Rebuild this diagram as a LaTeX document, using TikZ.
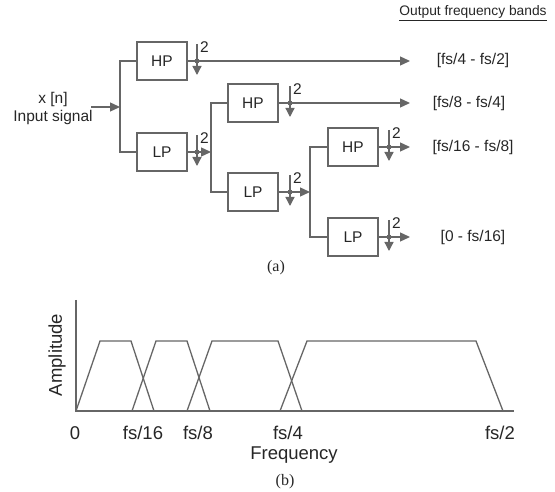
\documentclass[tikz,border=0pt]{standalone}
\usepackage{fontspec}
\setmainfont{Liberation Sans}
\newfontfamily\serifcap{Liberation Serif}
\usetikzlibrary{arrows.meta}
\tikzset{
  ln/.style={draw=black!60, line width=1.3pt},
  arr/.style={ln, -{Triangle[length=10pt,width=9pt]}},
  filt/.style={draw=black!60, line width=1.3pt, minimum width=50pt, minimum height=38pt, inner sep=0pt, text=black!85, font=\fontsize{15.5}{18}\selectfont},
  lab/.style={text=black!85, font=\fontsize{15.5}{18}\selectfont, inner sep=0pt},
  blab/.style={text=black!85, font=\fontsize{18.5}{21}\selectfont, inner sep=0pt},
  captext/.style={text=black!85, font=\serifcap\fontsize{16}{18}\selectfont, inner sep=0pt},
  dsdot/.style={circle, fill=black!60, inner sep=0pt, minimum size=5pt}
}
\newcommand{\dsamp}[3]{%
  \node[dsdot] (#1) at (#2,#3) {};
  \draw[ln, -{Triangle[length=9pt,width=9pt]}] (#2,#3-17) -- (#2,#3+14);
  \node[lab, anchor=south west] at (#2+3,#3-8) {2};
}
\begin{document}
\begin{tikzpicture}[x=1pt,y=-1pt]
\useasboundingbox (0,0) rectangle (555,492);
% title
\node[lab, font=\fontsize{13.8}{16}\selectfont] (title) at (473,13) {\underline{Output frequency bands}};
% input
\node[lab, align=center] (input) at (53,108) {x [n]\\Input signal};
\coordinate (inp) at (91,107);
\coordinate (s1) at (120,107);
\draw[arr] (inp) -- (s1);
% stage 1
\node[filt] (hp1) at (162,61) {HP};
\node[filt] (lp1) at (162,152) {LP};
\draw[ln] (hp1.west) -| (s1) |- (lp1.west);
\dsamp{d1}{197}{61}
\dsamp{d2}{197}{152}
\coordinate (t1) at (410,61);
\draw[arr] (hp1.east) -- (t1);
\node[lab] (o1) at (473,60) {[fs/4 - fs/2]};
\coordinate (s2) at (211,152);
\draw[arr] (lp1.east) -- (s2);
% stage 2
\node[filt] (hp2) at (253,103) {HP};
\node[filt] (lp2) at (253,192) {LP};
\draw[ln] (hp2.west) -| (s2) |- (lp2.west);
\dsamp{d3}{290}{103}
\dsamp{d4}{290}{192}
\coordinate (t2) at (410,103);
\draw[arr] (hp2.east) -- (t2);
\node[lab] (o2) at (469,103) {[fs/8 - fs/4]};
\coordinate (s3) at (310,192);
\draw[arr] (lp2.east) -- (s3);
% stage 3
\node[filt] (hp3) at (353,147) {HP};
\node[filt] (lp3) at (353,237) {LP};
\draw[ln] (hp3.west) -| (s3) |- (lp3.west);
\dsamp{d5}{389}{147}
\dsamp{d6}{389}{237}
\coordinate (t3) at (410,147);
\coordinate (t4) at (410,237);
\draw[arr] (hp3.east) -- (t3);
\draw[arr] (lp3.east) -- (t4);
\node[lab] (o3) at (473,147) {[fs/16 - fs/8]};
\node[lab] (o4) at (473,237) {[0 - fs/16]};
\node[captext] (capa) at (276,268) {(a)};
% part (b)
\draw[ln] (76,300) -- (76,411) -- (514,411);
\draw[ln] (76,411) -- (100,341) -- (131,341) -- (154,411);
\draw[ln] (132,411) -- (156,341) -- (187,341) -- (210,411);
\draw[ln] (187,411) -- (212,341) -- (278,341) -- (302,411);
\draw[ln] (280,411) -- (307,341) -- (476,341) -- (503,411);
\node[blab, rotate=90] (amp) at (57,355) {Amplitude};
\node[blab] (f0) at (75,433) {0};
\node[blab] (f16) at (143,433) {fs/16};
\node[blab] (f8) at (198,433) {fs/8};
\node[blab] (f4) at (288,433) {fs/4};
\node[blab] (f2) at (500,433) {fs/2};
\node[blab] (freq) at (294,455) {Frequency};
\node[captext] (capb) at (285,482) {(b)};
\end{tikzpicture}
\end{document}
